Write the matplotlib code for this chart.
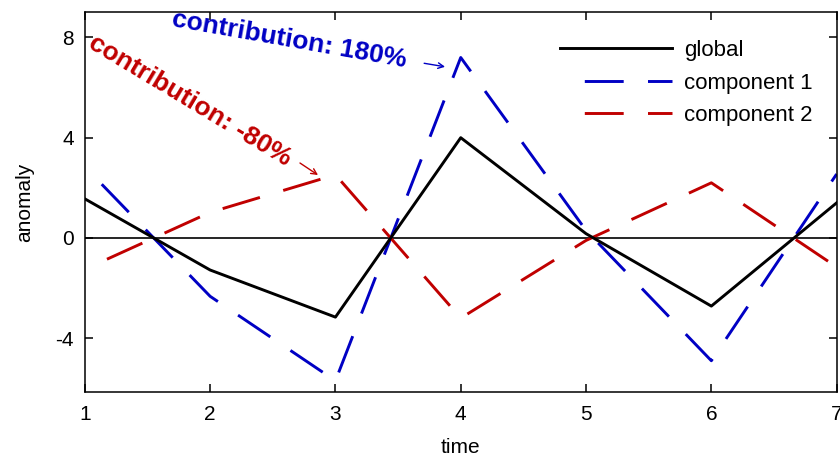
import matplotlib
matplotlib.use("Agg")
import matplotlib.pyplot as plt

# values
time = [1, 2, 3, 4, 5, 6, 7]
global_anom = [1.56, -1.28, -3.16, 4.00, 0.17, -2.72, 1.40]
component1 = [2.84, -2.33, -5.70, 7.20, 0.30, -4.90, 2.55]
component2 = [-1.25, 1.02, 2.52, -3.20, -0.10, 2.20, -1.16]
y_ticks = [-4, 0, 4, 8]
x_ticks = time

BLUE = '#0000c4'
RED = '#c00000'
DASH = (28, (28, 17.5))

plt.rcParams['font.family'] = ['Liberation Sans', 'DejaVu Sans']
plt.rcParams['lines.scale_dashes'] = False
plt.rcParams['axes.unicode_minus'] = False

fig = plt.figure(figsize=(8.4, 4.58), dpi=100)
ax = fig.add_axes([0.101, 0.144, 0.895, 0.830])

ax.axhline(0, color='k', lw=1.2, zorder=1)
ax.plot(time, global_anom, color='k', lw=2.1, label='global', zorder=3)
ax.plot(time, component1, color=BLUE, lw=2.1, ls=DASH, label='component 1', zorder=2)
ax.plot(time, component2, color=RED, lw=2.1, ls=DASH, label='component 2', zorder=2)

ax.set_xlim(1, 7)
ax.set_ylim(-6.15, 9.02)
ax.set_xticks(x_ticks)
ax.set_yticks(y_ticks)
ax.tick_params(direction='in', top=True, right=True, length=5.5, width=1.1,
               labelsize=15, pad=8)
ax.tick_params(axis='x', pad=9.5)
for s in ax.spines.values():
    s.set_linewidth(1.1)

ax.set_xlabel('time', fontsize=15, va='center')
ax.xaxis.set_label_coords(0.5, -0.145)
ax.set_ylabel('anomaly', fontsize=15, va='center')
ax.yaxis.set_label_coords(-0.08, 0.5)

# annotations
ax.text(1.69, 8.44, 'contribution: 180%', rotation=-10, rotation_mode='anchor',
        ha='left', va='baseline', fontsize=19, fontweight='bold', color=BLUE)
ax.text(1.02, 7.62, 'contribution: -80%', rotation=-31, rotation_mode='anchor',
        ha='left', va='baseline', fontsize=19, fontweight='bold', color=RED)
ax.annotate('', xy=(3.875, 6.83), xytext=(3.708, 6.97),
            arrowprops=dict(arrowstyle='->', color=BLUE, lw=1, shrinkA=0, shrinkB=0))
ax.annotate('', xy=(2.861, 2.51), xytext=(2.717, 2.99),
            arrowprops=dict(arrowstyle='->', color=RED, lw=1, shrinkA=0, shrinkB=0))

ax.legend(loc='upper left', bbox_to_anchor=(0.632, 0.926), frameon=False,
          fontsize=16, borderaxespad=0, borderpad=0, handlelength=5.04,
          handletextpad=0.54, labelspacing=0.52)

fig.savefig('out.png', dpi=100)
